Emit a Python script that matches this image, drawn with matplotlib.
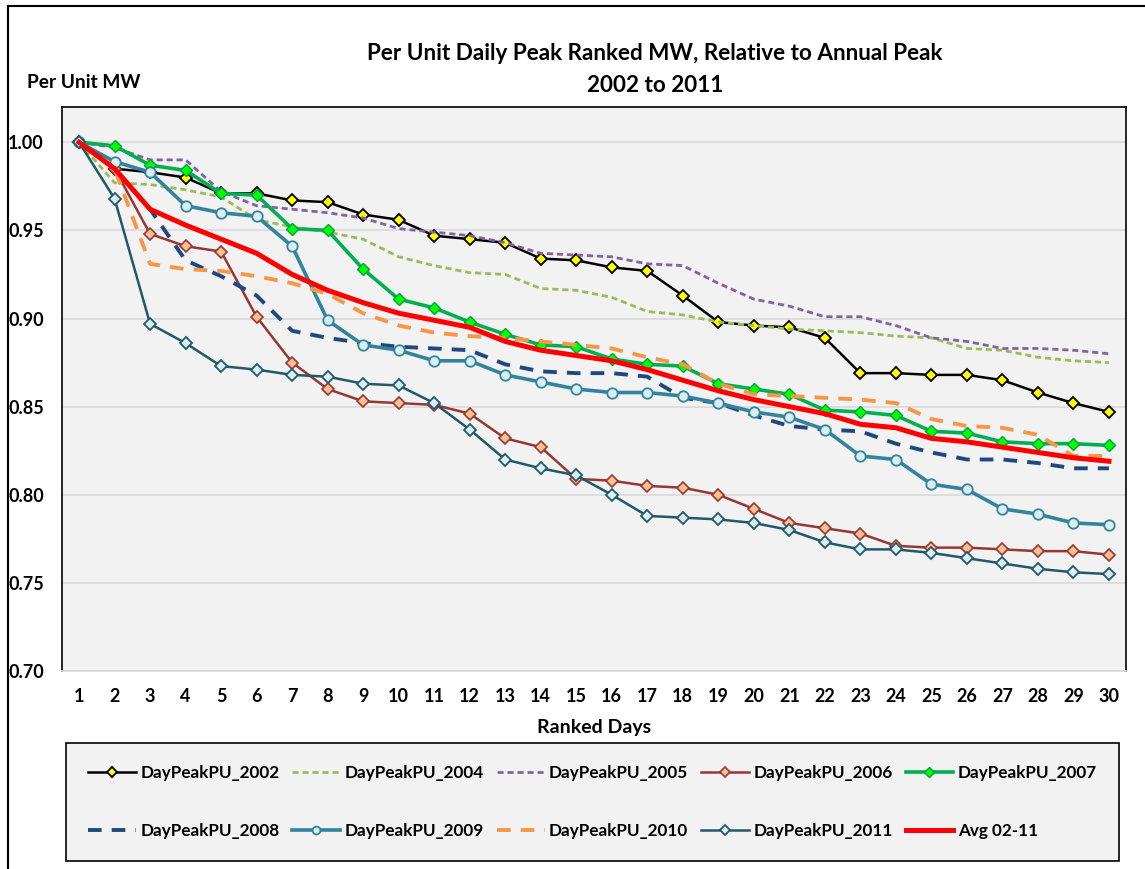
import matplotlib
matplotlib.use('Agg')
import matplotlib.pyplot as plt
from matplotlib.patches import Rectangle

days = list(range(1, 31))

pu_2002 = [1.000, 0.985, 0.983, 0.980, 0.971, 0.971, 0.967, 0.966, 0.959, 0.956,
           0.947, 0.945, 0.943, 0.934, 0.933, 0.929, 0.927, 0.913, 0.898, 0.896,
           0.895, 0.889, 0.869, 0.869, 0.868, 0.868, 0.865, 0.858, 0.852, 0.847]
pu_2004 = [1.000, 0.977, 0.976, 0.973, 0.969, 0.956, 0.952, 0.949, 0.945, 0.935,
           0.930, 0.926, 0.925, 0.917, 0.916, 0.912, 0.904, 0.902, 0.898, 0.896,
           0.894, 0.893, 0.892, 0.890, 0.889, 0.883, 0.882, 0.878, 0.876, 0.875]
pu_2005 = [1.000, 0.997, 0.990, 0.990, 0.972, 0.964, 0.962, 0.960, 0.957, 0.951,
           0.949, 0.947, 0.943, 0.937, 0.936, 0.935, 0.931, 0.930, 0.920, 0.911,
           0.907, 0.901, 0.901, 0.896, 0.889, 0.887, 0.883, 0.883, 0.882, 0.880]
pu_2006 = [1.000, 0.985, 0.948, 0.941, 0.938, 0.901, 0.875, 0.860, 0.853, 0.852,
           0.851, 0.846, 0.832, 0.827, 0.809, 0.808, 0.805, 0.804, 0.800, 0.792,
           0.784, 0.781, 0.778, 0.771, 0.770, 0.770, 0.769, 0.768, 0.768, 0.766]
pu_2007 = [1.000, 0.998, 0.987, 0.984, 0.971, 0.970, 0.951, 0.950, 0.928, 0.911,
           0.906, 0.898, 0.891, 0.885, 0.884, 0.877, 0.874, 0.873, 0.863, 0.860,
           0.857, 0.848, 0.847, 0.845, 0.836, 0.835, 0.830, 0.829, 0.829, 0.828]
pu_2008 = [1.000, 0.985, 0.962, 0.933, 0.924, 0.913, 0.893, 0.889, 0.886, 0.884,
           0.883, 0.882, 0.874, 0.870, 0.869, 0.869, 0.867, 0.855, 0.852, 0.845,
           0.839, 0.837, 0.836, 0.829, 0.824, 0.820, 0.820, 0.818, 0.815, 0.815]
pu_2009 = [1.000, 0.989, 0.983, 0.964, 0.960, 0.958, 0.941, 0.899, 0.885, 0.882,
           0.876, 0.876, 0.868, 0.864, 0.860, 0.858, 0.858, 0.856, 0.852, 0.847,
           0.844, 0.837, 0.822, 0.820, 0.806, 0.803, 0.792, 0.789, 0.784, 0.783]
pu_2010 = [1.000, 0.985, 0.931, 0.928, 0.927, 0.924, 0.920, 0.914, 0.903, 0.896,
           0.892, 0.890, 0.889, 0.887, 0.885, 0.883, 0.878, 0.874, 0.863, 0.857,
           0.856, 0.855, 0.854, 0.852, 0.843, 0.839, 0.838, 0.834, 0.822, 0.822]
pu_2011 = [1.000, 0.968, 0.897, 0.886, 0.873, 0.871, 0.868, 0.867, 0.863, 0.862,
           0.852, 0.837, 0.820, 0.815, 0.811, 0.800, 0.788, 0.787, 0.786, 0.784,
           0.780, 0.773, 0.769, 0.769, 0.767, 0.764, 0.761, 0.758, 0.756, 0.755]
avg_02_11 = [1.000, 0.985, 0.962, 0.953, 0.945, 0.937, 0.925, 0.916, 0.909, 0.903,
             0.899, 0.895, 0.887, 0.882, 0.879, 0.876, 0.871, 0.865, 0.859, 0.854,
             0.850, 0.846, 0.840, 0.838, 0.832, 0.830, 0.827, 0.824, 0.821, 0.819]

y_ticks = [0.70, 0.75, 0.80, 0.85, 0.90, 0.95, 1.00]

plt.rcParams.update({
    'font.family': ['Lato', 'DejaVu Sans'],
    'font.weight': 'bold',
    'font.size': 13,
})

fig = plt.figure(figsize=(11.45, 8.69), dpi=100)
fig.patch.set_facecolor('white')
fig.patches.append(Rectangle((8 / 1145, -0.05), 1.2, 1.05 - 6 / 869, transform=fig.transFigure,
                             fill=False, edgecolor='black', linewidth=1.5, zorder=0))

ax = fig.add_axes([62 / 1145, 1 - 671 / 869, (1126 - 62) / 1145, (671 - 107) / 869])
ax.set_facecolor('#F2F2F2')

short_dash = (2.2, 1.4)
long_dash = (3.5, 2.6)

series = [
    ('DayPeakPU_2002', pu_2002, dict(color='black', lw=1.8, marker='D', ms=6.5, mfc='#FFFF00', mec='black', mew=1.3)),
    ('DayPeakPU_2004', pu_2004, dict(color='#9BBB59', lw=2.0, dashes=short_dash)),
    ('DayPeakPU_2005', pu_2005, dict(color='#8064A2', lw=2.0, dashes=short_dash)),
    ('DayPeakPU_2006', pu_2006, dict(color='#953735', lw=1.8, marker='D', ms=6.5, mfc='#FAC090', mec='#953735', mew=1.2)),
    ('DayPeakPU_2007', pu_2007, dict(color='#00B050', lw=2.6, marker='D', ms=6.5, mfc='#00FF00', mec='#00A040', mew=1.0)),
    ('DayPeakPU_2008', pu_2008, dict(color='#1F497D', lw=2.8, dashes=long_dash)),
    ('DayPeakPU_2009', pu_2009, dict(color='#31849B', lw=2.6, marker='o', ms=7.5, mfc='#DBEEF4', mec='#31849B', mew=1.3)),
    ('DayPeakPU_2010', pu_2010, dict(color='#F79646', lw=2.8, dashes=long_dash)),
    ('DayPeakPU_2011', pu_2011, dict(color='#215968', lw=1.8, marker='D', ms=6.5, mfc='#DBEEF4', mec='#215968', mew=1.3)),
    ('Avg 02-11', avg_02_11, dict(color='#FF0000', lw=3.6)),
]

handles = {}
for name, vals, style in series:
    line, = ax.plot(days, vals, label=name, **style)
    handles[name] = line

ax.set_xlim(0.52, 30.48)
ax.set_ylim(0.70, 1.02)
ax.set_xticks(days)
ax.set_yticks(y_ticks)
ax.set_yticklabels(['%.2f' % v for v in y_ticks])
ax.tick_params(axis='both', length=0, labelsize=13)
ax.tick_params(axis='y', pad=13)
ax.tick_params(axis='x', pad=12)
ax.grid(axis='y', color='#D9D9D9', lw=1.2)
ax.set_axisbelow(True)
for side in ['left', 'top', 'right']:
    ax.spines[side].set_color('black')
    ax.spines[side].set_linewidth(1.2)
ax.spines['bottom'].set_color('#D9D9D9')
ax.spines['bottom'].set_linewidth(1.2)

fig.text(655 / 1145, 1 - 53 / 869, 'Per Unit Daily Peak Ranked MW, Relative to Annual Peak',
         ha='center', va='center', fontsize=16.2, fontweight='bold')
fig.text(655 / 1145, 1 - 85 / 869, '2002 to 2011', ha='center', va='center', fontsize=16.2, fontweight='bold')
fig.text(27 / 1145, 1 - 82 / 869, 'Per Unit MW', ha='left', va='center', fontsize=13.8, fontweight='bold')
fig.text(594 / 1145, 1 - 727 / 869, 'Ranked Days', ha='center', va='center', fontsize=14, fontweight='bold')

# legend fills row by row in the original, matplotlib fills columns first
order = ['DayPeakPU_2002', 'DayPeakPU_2008', 'DayPeakPU_2004', 'DayPeakPU_2009',
         'DayPeakPU_2005', 'DayPeakPU_2010', 'DayPeakPU_2006', 'DayPeakPU_2011',
         'DayPeakPU_2007', 'Avg 02-11']
leg = fig.legend([handles[k] for k in order], order, ncol=5, loc='upper left',
                 bbox_to_anchor=(66 / 1145, 1 - 743 / 869, (1119 - 66) / 1145, 0.0),
                 mode='expand', borderaxespad=0, handlelength=2.8, handletextpad=0.25,
                 labelspacing=2.45, borderpad=1.3, fancybox=False, markerscale=0.75,
                 fontsize=12.3)
leg.get_frame().set_facecolor('#F2F2F2')
leg.get_frame().set_edgecolor('black')
leg.get_frame().set_linewidth(1.2)
leg.get_frame().set_alpha(1)

fig.savefig('out.png', dpi=100, facecolor='white')
